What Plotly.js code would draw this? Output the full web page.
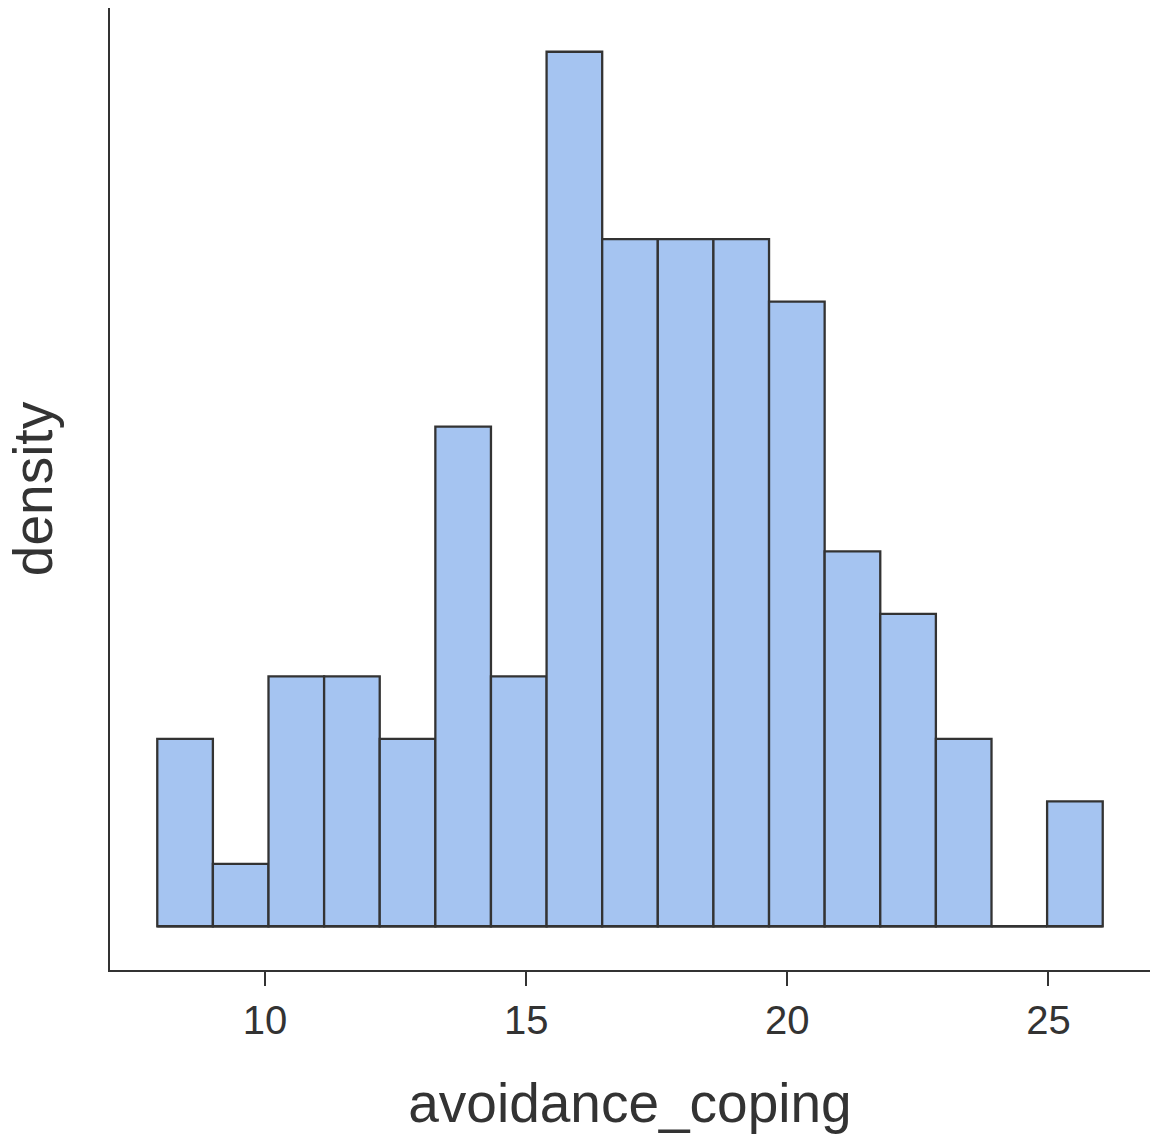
<!DOCTYPE html>
<html>
<head>
<meta charset="utf-8">
<script src="https://cdn.plot.ly/plotly-3.0.1.min.js"></script>
<style>html,body{margin:0;padding:0;background:#fff;}#chart{width:1150px;height:1136px;}</style>
</head>
<body>
<div id="chart"></div>
<script>
// Histogram data (counts per bin, N = 100)
const binStart = 7.935;
const binWidth = 1.065;
const counts = [3, 1, 4, 4, 3, 8, 4, 14, 11, 11, 11, 10, 6, 5, 3, 0, 2];
const xTickVals = [10, 15, 20, 25];
const xTickText = ["10", "15", "20", "25"];

const total = counts.reduce((a, b) => a + b, 0);
const centers = counts.map((_, i) => binStart + binWidth * (i + 0.5));
const density = counts.map(c => c / (total * binWidth));
const lo = binStart, hi = binStart + binWidth * counts.length;
const xpad = 0.05 * (hi - lo);
const ymax = Math.max(...density);
const ypad = 0.05 * ymax;

const ink = '#333333';

const traces = [
  {
    type: 'bar',
    x: centers,
    y: density,
    width: binWidth,
    marker: { color: '#a5c4f1', line: { color: ink, width: 2.3 } },
    hoverinfo: 'x+y',
    showlegend: false
  },
  {
    type: 'scatter',
    mode: 'lines',
    x: [lo, hi],
    y: [0, 0],
    line: { color: ink, width: 2.3 },
    hoverinfo: 'skip',
    showlegend: false
  }
];

const layout = {
  width: 1150,
  height: 1136,
  margin: { l: 110, r: 0, t: 8, b: 166 },
  paper_bgcolor: '#ffffff',
  plot_bgcolor: '#ffffff',
  font: { family: '"Liberation Sans", Arial, sans-serif', color: ink },
  bargap: 0,
  xaxis: {
    range: [lo - xpad, hi + xpad],
    tickvals: xTickVals,
    ticktext: xTickText,
    ticks: 'outside',
    ticklen: 14,
    tickwidth: 2,
    tickcolor: ink,
    tickfont: { size: 40, color: ink },
    showline: true,
    linecolor: ink,
    linewidth: 2,
    showgrid: false,
    zeroline: false,
    title: { text: 'avoidance_coping', font: { size: 55, color: ink }, standoff: 42 }
  },
  yaxis: {
    range: [-ypad, ymax + ypad],
    showticklabels: false,
    ticks: '',
    showline: true,
    linecolor: ink,
    linewidth: 2,
    showgrid: false,
    zeroline: false,
    title: { text: 'density', font: { size: 55, color: ink }, standoff: 38 }
  }
};

Plotly.newPlot('chart', traces, layout, { displayModeBar: false, staticPlot: true });
</script>
</body>
</html>
